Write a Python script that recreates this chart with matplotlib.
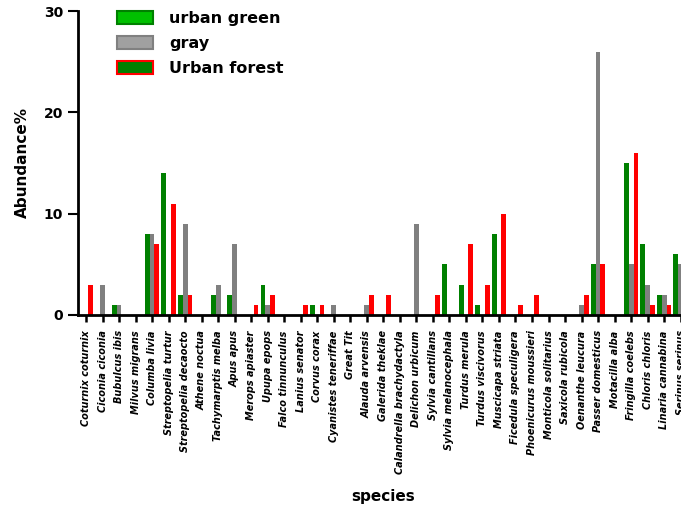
import matplotlib
matplotlib.use("Agg")
import matplotlib.pyplot as plt
import numpy as np
from matplotlib.patches import Patch

species = ["Coturnix coturnix", "Ciconia ciconia", "Bubulcus ibis", "Milvus migrans",
           "Columba livia", "Streptopelia turtur", "Streptopelia decaocto", "Athene noctua",
           "Tachymarptis melba", "Apus apus", "Merops apiaster", "Upupa epops",
           "Falco tinnunculus", "Lanius senator", "Corvus corax", "Cyanistes teneriffae",
           "Great Tit", "Alauda arvensis", "Galerida theklae", "Calandrella brachydactyla",
           "Delichon urbicum", "Sylvia cantillans", "Sylvia melanocephala", "Turdus merula",
           "Turdus viscivorus", "Muscicapa striata", "Ficedula speculigera",
           "Phoenicurus moussieri", "Monticola solitarius", "Saxicola rubicola",
           "Oenanthe leucura", "Passer domesticus", "Motacilla alba", "Fringilla coelebs",
           "Chloris chloris", "Linaria cannabina", "Serinus serinus"]

urban_green = [0, 0, 1, 0, 8, 14, 2, 0, 2, 2, 0, 3, 0, 0, 1, 0, 0, 0, 0, 0, 0, 0, 5, 3,
               1, 8, 0, 0, 0, 0, 0, 5, 0, 15, 7, 2, 6]
gray = [0, 3, 1, 0, 8, 0, 9, 0, 3, 7, 0, 1, 0, 0, 0, 1, 0, 1, 0, 0, 9, 0, 0, 0,
        0, 0, 0, 0, 0, 0, 1, 26, 0, 5, 3, 2, 5]
urban_forest = [3, 0, 0, 0, 7, 11, 2, 0, 0, 0, 1, 2, 0, 1, 1, 0, 0, 2, 2, 0, 0, 2, 0, 7,
                3, 10, 1, 2, 0, 0, 2, 5, 0, 16, 1, 1, 5]

series_names = ["urban green", "gray", "Urban forest"]

W, H = 681, 507
fig = plt.figure(figsize=(W / 100, H / 100), dpi=100)
ax = fig.add_axes([78 / W, 192 / H, 1 - 78 / W, 304 / H])

x = np.arange(len(species))
bw = 0.29
ax.bar(x - bw, urban_green, bw, color="#008000", linewidth=0)
ax.bar(x, gray, bw, color="#808080", linewidth=0)
ax.bar(x + bw, urban_forest, bw, color="#FF0000", linewidth=0)

ax.set_xlim(-0.484, 36.02)
ax.set_ylim(0, 30)
ax.set_yticks([0, 10, 20, 30])
ax.set_xticks(x)
ax.set_xticklabels(species, rotation=90, fontsize=7, fontstyle="italic",
                   fontweight="bold", family="DejaVu Sans", va="top", ha="center")
for lab in ax.get_yticklabels():
    lab.set_fontweight("bold")
    lab.set_fontsize(10)
ax.tick_params(axis="y", length=7.2, width=1.5, pad=3.5)
ax.tick_params(axis="x", length=5, width=1.8, pad=6)
for s in ["top", "right"]:
    ax.spines[s].set_visible(False)
for s in ["left", "bottom"]:
    ax.spines[s].set_linewidth(2)

ax.set_ylabel("Abundance%", fontsize=11, fontweight="bold", labelpad=10)
fig.text(383 / W, 1 - 497 / H, "species", fontsize=11, fontweight="bold",
         ha="center", va="center")

handles = [Patch(facecolor="#00C000", edgecolor="#008000", linewidth=1.5),
           Patch(facecolor="#A0A0A0", edgecolor="#808080", linewidth=1.5),
           Patch(facecolor="#008000", edgecolor="#FF0000", linewidth=1.5)]
leg = fig.legend(handles, series_names, loc="upper left",
                 bbox_to_anchor=(117 / W, 1 - 11 / H), frameon=False,
                 prop={"weight": "bold", "size": 11.5},
                 handlelength=2.25, handleheight=0.85, handletextpad=1.0,
                 labelspacing=0.62, borderpad=0, borderaxespad=0)

fig.savefig("out.png", dpi=100)
